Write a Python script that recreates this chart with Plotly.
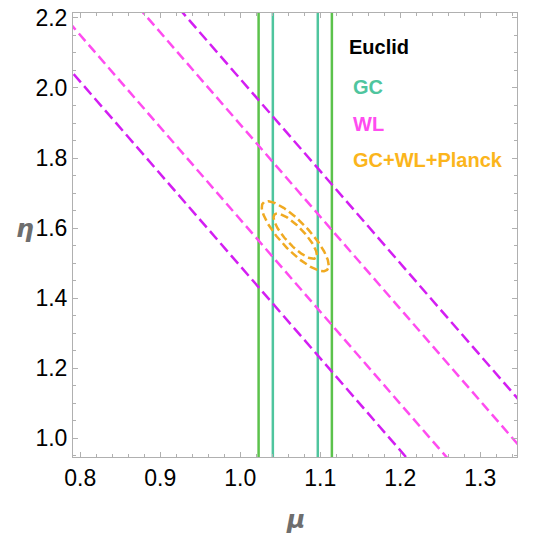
import numpy as np
import plotly.graph_objects as go

# GC: vertical bands (mu bounds)
gc_outer_mu = [1.023, 1.1146]
gc_inner_mu = [1.0408, 1.097]

# WL: degenerate contours, eta at mu=0.7 and mu=1.4
wl_mu_ends = [0.7, 1.4]
wl_outer_eta = [[2.281, 0.440], [2.815, 0.974]]
wl_inner_eta = [[2.414, 0.573], [2.685, 0.844]]

# GC+WL+Planck combined: center, sigmas, correlation, contour scales
comb_center = [1.0688, 1.577]
comb_sigma = [0.0178, 0.0425]
comb_rho = -0.83
comb_levels = [1.52, 2.35]

x_range = [0.791, 1.346]
y_range = [0.947, 2.214]

GREEN = "#5cc24c"
TEAL = "#4fc59e"
MAGENTA = "#d31ef2"
PINK = "#ff4cf0"
ORANGE = "#f0aa22"

W = 540
PL, PR, PT, PB = 73, 517, 13, 457  # plot area in pixels

fig = go.Figure()

for m in gc_outer_mu:
    fig.add_trace(go.Scatter(x=[m, m], y=[0.5, 3.0], mode="lines",
                             line=dict(color=GREEN, width=2.5), showlegend=False))
for m in gc_inner_mu:
    fig.add_trace(go.Scatter(x=[m, m], y=[0.5, 3.0], mode="lines",
                             line=dict(color=TEAL, width=2.5), showlegend=False))

for e in wl_inner_eta:
    fig.add_trace(go.Scatter(x=wl_mu_ends, y=e, mode="lines",
                             line=dict(color=PINK, width=2.5, dash="10px,5px"),
                             showlegend=False))
for e in wl_outer_eta:
    fig.add_trace(go.Scatter(x=wl_mu_ends, y=e, mode="lines",
                             line=dict(color=MAGENTA, width=2.5, dash="11px,5px"),
                             showlegend=False))

# combined contours from the covariance
cov = np.array([[comb_sigma[0]**2, comb_rho*comb_sigma[0]*comb_sigma[1]],
                [comb_rho*comb_sigma[0]*comb_sigma[1], comb_sigma[1]**2]])
L = np.linalg.cholesky(cov)
t = np.linspace(0, 2*np.pi, 200)
circ = np.vstack([np.cos(t), np.sin(t)])
for k in comb_levels:
    pts = k * (L @ circ)
    fig.add_trace(go.Scatter(x=comb_center[0] + pts[0], y=comb_center[1] + pts[1],
                             mode="lines",
                             line=dict(color=ORANGE, width=2.5, dash="8px,4px"),
                             showlegend=False))

axis_common = dict(showline=True, linecolor="#b0b0b0", linewidth=1, mirror="allticks",
                   ticks="inside", ticklen=5, tickcolor="#b0b0b0", showgrid=False,
                   zeroline=False, automargin=False, ticklabeloverflow="allow",
                   tickfont=dict(family="Liberation Sans", size=23, color="black"))

fig.update_xaxes(range=x_range, tickvals=[0.8, 0.9, 1.0, 1.1, 1.2, 1.3],
                 ticktext=["0.8", "0.9", "1.0", "1.1", "1.2", "1.3"],
                 minor=dict(dtick=0.02, tick0=0.8, ticks="inside", ticklen=3, tickcolor="#b0b0b0"),
                 **axis_common)
fig.update_yaxes(range=y_range, tickvals=[1.0, 1.2, 1.4, 1.6, 1.8, 2.0, 2.2],
                 ticktext=["1.0", "1.2", "1.4", "1.6", "1.8", "2.0", "2.2"],
                 minor=dict(dtick=0.05, tick0=1.0, ticks="inside", ticklen=3, tickcolor="#b0b0b0"),
                 **axis_common)

pw = PR - PL
ph = PB - PT


def px2paper(px, py):
    return (px - PL) / pw, 1 - (py - PT) / ph


labels = [("Euclid", "black", 348, 47), ("GC", TEAL, 352, 87),
          ("WL", PINK, 352, 124), ("GC+WL+Planck", "#fbb51c", 352, 160)]
for txt, col, px, py in labels:
    ax, ay = px2paper(px - 1, py)
    fig.add_annotation(x=ax, y=ay, xref="paper", yref="paper",
                       text=f"<b>{txt}</b>", showarrow=False, xanchor="left", yanchor="middle",
                       font=dict(family="Liberation Sans", size=20, color=col))

ax, ay = px2paper(25, 228)
fig.add_annotation(x=ax, y=ay, xref="paper", yref="paper",
                   text="<b><i>η</i></b>", showarrow=False, xanchor="center", yanchor="middle",
                   font=dict(family="DejaVu Sans", size=25, color="#6e6e6e"))
ax, ay = px2paper(295, 519)
fig.add_annotation(x=ax, y=ay, xref="paper", yref="paper",
                   text="<b><i>μ</i></b>", showarrow=False, xanchor="center", yanchor="middle",
                   font=dict(family="DejaVu Sans", size=25, color="#6e6e6e"))

fig.update_layout(width=W, height=W, plot_bgcolor="white", paper_bgcolor="white",
                  margin=dict(l=PL, r=W - PR, t=PT, b=W - PB),
                  showlegend=False)

# drop the default page margin so the figure sits at the window's corner
fig.write_html("out.html", config={"displayModeBar": False},
               post_script="document.body.style.margin='0';")
